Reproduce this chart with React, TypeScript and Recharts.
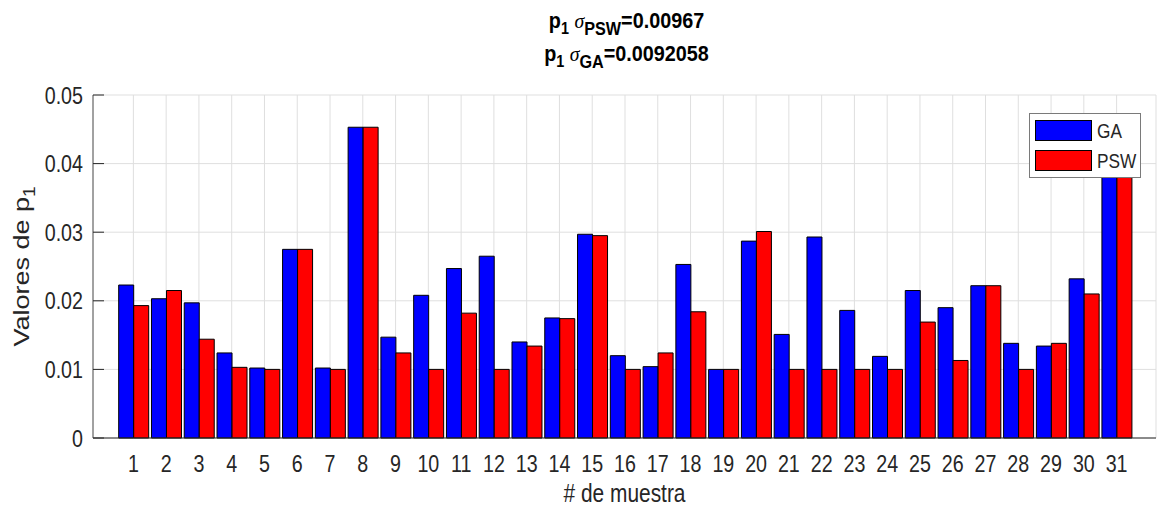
import React from 'react';
import { BarChart, Bar, XAxis, YAxis, CartesianGrid, Legend } from 'recharts';

// sample index along the x axis
const samples = [
  1, 2, 3, 4, 5, 6, 7, 8, 9, 10, 11, 12, 13, 14, 15, 16,
  17, 18, 19, 20, 21, 22, 23, 24, 25, 26, 27, 28, 29, 30, 31,
];

// p1 estimates per sample
const gaValues = [
  0.0223, 0.0203, 0.0197, 0.0124, 0.0102, 0.0275, 0.0102, 0.0453, 0.0147, 0.0208,
  0.0247, 0.0265, 0.014, 0.0175, 0.0297, 0.012, 0.0104, 0.0253, 0.01, 0.0287,
  0.0151, 0.0293, 0.0186, 0.0119, 0.0215, 0.019, 0.0222, 0.0138, 0.0134, 0.0232,
  0.0418,
];
const pswValues = [
  0.0193, 0.0215, 0.0144, 0.0103, 0.01, 0.0275, 0.01, 0.0453, 0.0124, 0.01,
  0.0182, 0.01, 0.0134, 0.0174, 0.0295, 0.01, 0.0124, 0.0184, 0.01, 0.0301,
  0.01, 0.01, 0.01, 0.01, 0.0169, 0.0113, 0.0222, 0.01, 0.0138, 0.021,
  0.0418,
];

const yTicks = [0, 0.01, 0.02, 0.03, 0.04, 0.05];
const yTickLabels = ['0', '0.01', '0.02', '0.03', '0.04', '0.05'];

const sigmaPSW = '0.00967';
const sigmaGA = '0.0092058';

const W = 1157;
const H = 514;
const PLOT_LEFT = 93;
const PLOT_TOP = 95;
const PLOT_RIGHT = 1156;
const PLOT_BOTTOM = 438;
const TICK_LEN = 11;

const AXIS_COLOR = '#262626';
const SANS = '"Liberation Sans", Arial, sans-serif';
// text is drawn horizontally condensed (Helvetica-narrow look)
const SQUEEZE = 0.82;

const data = samples.map((s, i) => ({ sample: s, GA: gaValues[i], PSW: pswValues[i] }));

const NarrowText = ({ x, y, anchor, size, children, weight, sx = SQUEEZE, color = AXIS_COLOR }: any) => (
  <text
    transform={`translate(${x} ${y}) scale(${sx} 1)`}
    x={0}
    y={0}
    textAnchor={anchor}
    fontFamily={SANS}
    fontSize={size}
    fontWeight={weight || 'normal'}
    fill={color}
  >
    {children}
  </text>
);

const BottomTick = (props: any) => {
  const { x, payload } = props;
  return (
    <NarrowText x={x} y={PLOT_BOTTOM + 34} anchor="middle" size={24}>
      {payload.value}
    </NarrowText>
  );
};

const TopTick = (props: any) => {
  const { x } = props;
  return <line x1={x} x2={x} y1={PLOT_TOP} y2={PLOT_TOP + TICK_LEN} stroke={AXIS_COLOR} strokeWidth={1} />;
};

const LeftTick = (props: any) => {
  const { y, payload } = props;
  const idx = yTicks.indexOf(payload.value);
  return (
    <g>
      <line x1={PLOT_LEFT} x2={PLOT_LEFT + TICK_LEN} y1={y} y2={y} stroke={AXIS_COLOR} strokeWidth={1} />
      <NarrowText x={PLOT_LEFT - 10} y={y + 8.5} anchor="end" size={24}>
        {idx >= 0 ? yTickLabels[idx] : payload.value}
      </NarrowText>
    </g>
  );
};

const RightTick = (props: any) => {
  const { y } = props;
  return <line x1={PLOT_RIGHT - TICK_LEN} x2={PLOT_RIGHT} y1={y} y2={y} stroke={AXIS_COLOR} strokeWidth={1} />;
};

const LegendBox = (props: any) => {
  const { payload } = props;
  return (
    <div
      style={{
        width: 112,
        height: 65,
        boxSizing: 'border-box',
        border: '1px solid #7a7a7a',
        background: '#fff',
        position: 'relative',
      }}
    >
      {(payload || []).map((entry: any, i: number) => (
        <div key={entry.value} style={{ position: 'absolute', left: 5, top: 6.5 + i * 30, height: 21 }}>
          <div style={{ width: 57, height: 21, boxSizing: 'border-box', border: '1px solid #000', background: entry.color }} />
          <span
            style={{
              position: 'absolute',
              left: 62,
              top: -1,
              fontFamily: SANS,
              fontSize: 21,
              color: AXIS_COLOR,
              lineHeight: '23px',
              transform: `scaleX(${SQUEEZE})`,
              transformOrigin: 'left center',
              whiteSpace: 'nowrap',
            }}
          >
            {entry.value}
          </span>
        </div>
      ))}
    </div>
  );
};

const TitleLine = ({ y, name, value }: any) => (
  <text
    transform={`translate(626.5 ${y}) scale(0.9 1)`}
    x={0}
    y={0}
    textAnchor="middle"
    fontFamily={SANS}
    fontWeight="bold"
    fontSize={22}
    fill="#000"
  >
    p<tspan dy={6} fontSize={16}>1</tspan>
    <tspan dy={-6}> </tspan>
    <tspan fontFamily='"Liberation Serif", serif' fontStyle="italic" fontWeight="normal">σ</tspan>
    <tspan dy={7} fontSize={18}>{name}</tspan>
    <tspan dy={-7}>={value}</tspan>
  </text>
);

export default function App() {
  return (
    <div style={{ position: 'absolute', left: 0, top: 0, width: W, height: H, background: '#fff' }}>
      <svg width={W} height={H} style={{ position: 'absolute', left: 0, top: 0 }}>
        <TitleLine y={28} name="PSW" value={sigmaPSW} />
        <TitleLine y={61} name="GA" value={sigmaGA} />
        <NarrowText x={624.5} y={502} anchor="middle" size={25.5}>
          # de muestra
        </NarrowText>
        <g transform={`translate(29, 266.5) scale(${SQUEEZE} 1) rotate(-90)`}>
          <text x={0} y={0} textAnchor="middle" fontFamily={SANS} fontSize={27} fill={AXIS_COLOR}>
            Valores de p<tspan dy={7} fontSize={19}>1</tspan>
          </text>
        </g>
      </svg>
      <div style={{ position: 'absolute', left: 0, top: 0 }}>
        <BarChart
          width={W}
          height={H}
          data={data}
          margin={{ top: PLOT_TOP, right: W - PLOT_RIGHT, left: 0, bottom: 0 }}
          barCategoryGap={1.7}
          barGap={0}
        >
          <CartesianGrid stroke="#dfdfdf" strokeWidth={1} />
          <XAxis
            dataKey="sample"
            interval={0}
            padding={{ left: 24, right: 23 }}
            height={H - PLOT_BOTTOM}
            axisLine={{ stroke: AXIS_COLOR }}
            tickLine={false}
            tick={<BottomTick />}
          />
          <XAxis
            xAxisId="top"
            orientation="top"
            dataKey="sample"
            interval={0}
            padding={{ left: 24, right: 23 }}
            height={0}
            axisLine={{ stroke: AXIS_COLOR }}
            tickLine={false}
            tick={<TopTick />}
          />
          <YAxis
            domain={[0, 0.05]}
            ticks={yTicks}
            width={PLOT_LEFT}
            axisLine={{ stroke: '#555' }}
            tickLine={false}
            tick={<LeftTick />}
          />
          <YAxis
            yAxisId="right"
            orientation="right"
            domain={[0, 0.05]}
            ticks={yTicks}
            width={0}
            allowDataOverflow
            axisLine={{ stroke: AXIS_COLOR }}
            tickLine={false}
            tick={<RightTick />}
          />
          <Bar dataKey="GA" name="GA" fill="#0000ff" stroke="#000" strokeWidth={1} isAnimationActive={false} />
          <Bar dataKey="PSW" name="PSW" fill="#ff0000" stroke="#000" strokeWidth={1} isAnimationActive={false} />
          <Legend
            layout="vertical"
            align="center"
            verticalAlign="middle"
            content={<LegendBox />}
            wrapperStyle={{ left: 1029, top: 112.5, width: 112, height: 65 }}
          />
        </BarChart>
      </div>
    </div>
  );
}
